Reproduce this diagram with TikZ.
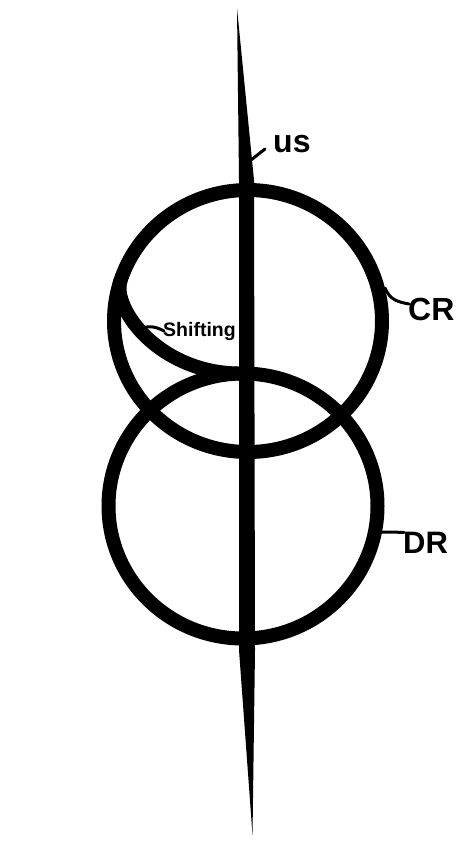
\documentclass[tikz,border=0pt]{standalone}
\usepackage{fontspec}
\setmainfont{Liberation Sans}

\begin{document}
\begin{tikzpicture}[x=1pt,y=-1pt,line cap=round,line join=round,
  ring/.style={black, line width=14pt},
  leader/.style={black, line width=3pt},
  tag/.style={font=\bfseries\fontsize{32}{36}\selectfont, inner sep=0pt, anchor=base west}]
  \useasboundingbox (0,0) rectangle (474,843);

  % upper ring
  \draw[ring] (248,321) ellipse [x radius=134pt, y radius=131pt];

  % lower ring
  \draw[ring] (243,506) ellipse [x radius=134.5pt, y radius=132.5pt];

  % inner arc leaving the upper ring
  \draw[ring, line cap=butt] (120.7,280) .. controls (111,308) and (160,375) .. (243,373.5);

  % vertical spike
  \fill[black] (237,8) -- (254,180) -- (255,650) -- (252.5,835)
    -- (239,650) -- (239,180) -- cycle;

  % labels
  \node[tag] (us) at (273,152) {us};
  \node[tag] (cr) at (408,320) {CR};
  \node[tag, font=\bfseries\fontsize{31}{35}\selectfont] (dr) at (403,553) {DR};
  \node[tag, font=\bfseries\fontsize{19.5}{22}\selectfont] (shifting) at (163,336) {Shifting};

  % leader lines
  \coordinate (usfoot) at (251,160);
  \coordinate (crfoot) at (385,288);
  \coordinate (drfoot) at (382,532);
  \coordinate (shiftfoot) at (140,330);

  \draw[leader] (usfoot) -- ([shift={(-8,-3)}]us.base west);
  \draw[leader] (crfoot) .. controls (390,300) and (398,302) .. ([shift={(1,-5)}]cr.west);
  \draw[leader] (drfoot) -- ([shift={(1,-10)}]dr.west);
  \draw[leader] (shiftfoot) .. controls (146,325) and (155,326) .. ([xshift=1pt]shifting.west);
\end{tikzpicture}
\end{document}
